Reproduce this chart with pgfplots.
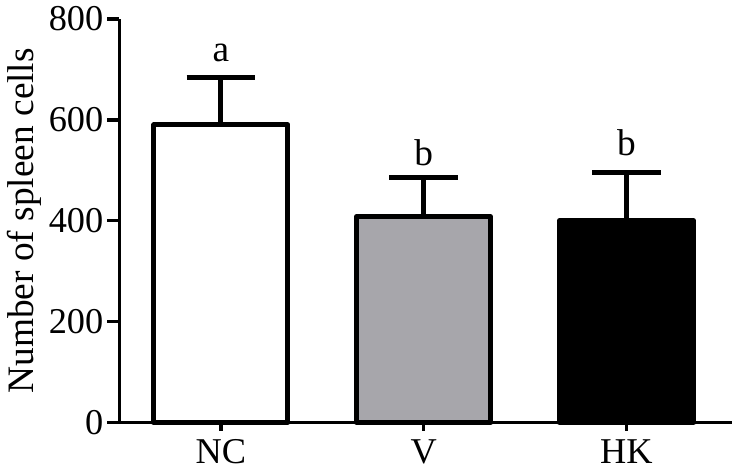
\documentclass[border=0pt]{standalone}
\usepackage{pgfplots}
\pgfplotsset{compat=1.18}
\usepackage{fontspec}
\setmainfont{Liberation Serif}
\definecolor{vgray}{RGB}{167,166,171}
\begin{document}
\begin{tikzpicture}
\begin{axis}[
  width=303.5pt, height=200pt, scale only axis,
  xmin=-0.5, xmax=2.52, ymin=0, ymax=800,
  axis lines*=left,
  axis line style={line width=1.7pt},
  xtick={0,1,2}, xticklabels={NC,V,HK},
  ytick={0,200,400,600,800},
  tick align=outside,
  major tick length=6pt,
  xtick style={line width=1.7pt, black, /pgfplots/major tick length=4pt},
  ytick style={line width=1.7pt, black},
  tick label style={font=\fontsize{18}{21}\selectfont},
  yticklabel style={xshift=1.5pt},
  xticklabel style={yshift=1pt},
  /pgf/number format/assume math mode=true,
  ylabel={Number of spleen cells},
  ylabel style={font=\fontsize{18.5}{21}\selectfont, yshift=-3pt},
  ybar, bar width=0.66, bar shift=0pt,
  every axis plot/.append style={line width=2.5pt, line join=round},
  error bars/y dir=plus, error bars/y explicit,
  error bars/error bar style={line width=2.5pt, black},
  error bars/error mark options={line width=2.5pt, black, mark size=17pt, rotate=90},
  clip=false,
]
\addplot[draw=black, fill=white] coordinates {(0,590) +- (0,94)};
\addplot[draw=black, fill=vgray] coordinates {(1,408) +- (0,78)};
\addplot[draw=black, fill=black] coordinates {(2,400) +- (0,96)};
\node[font=\fontsize{18.5}{21}\selectfont, anchor=base] at (axis cs:0,716) {a};
\node[font=\fontsize{18.5}{21}\selectfont, anchor=base] at (axis cs:1,510) {b};
\node[font=\fontsize{18.5}{21}\selectfont, anchor=base] at (axis cs:2,530) {b};
\path (rel axis cs:1,0) ++(4pt,0pt);
\end{axis}
\end{tikzpicture}
\end{document}
